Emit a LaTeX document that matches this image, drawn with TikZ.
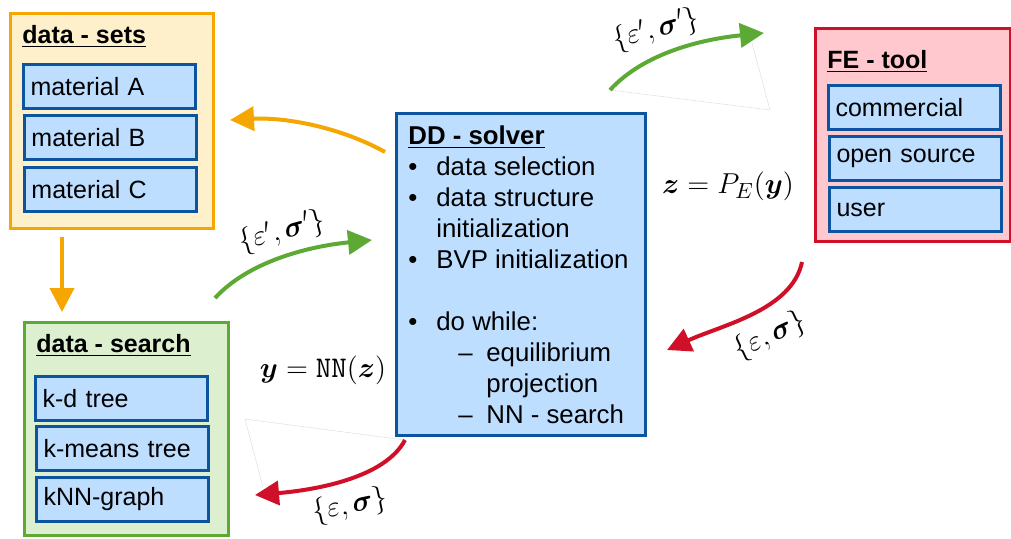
\documentclass[tikz,border=0pt]{standalone}
\usepackage{amsmath}
\usepackage{bm}
\usepackage{fontspec}
\setmainfont{Liberation Sans}
\usetikzlibrary{calc,fit,arrows.meta}
\definecolor{setsorange}{RGB}{245,166,0}
\definecolor{setsfill}{RGB}{255,240,204}
\definecolor{searchgreen}{RGB}{92,170,52}
\definecolor{searchfill}{RGB}{220,240,208}
\definecolor{fered}{RGB}{208,16,40}
\definecolor{fefill}{RGB}{255,199,206}
\definecolor{solverblue}{RGB}{12,84,160}
\definecolor{itemfill}{RGB}{189,222,255}
\newcommand{\solbul}{\makebox[14pt][l]{\textbullet}}
\newcommand{\solind}{\hspace*{14pt}}
\newcommand{\soldash}{\hspace*{25pt}\makebox[14pt][l]{--}}
\newcommand{\soldind}{\hspace*{39pt}}
\tikzset{
  outerbox/.style={draw, line width=1.5pt, inner sep=0pt},
  itembox/.style={draw=solverblue, fill=itemfill, line width=1.5pt, anchor=north west,
    minimum width=86pt, minimum height=22pt, text width=79pt, inner xsep=3.5pt,
    align=left, font=\fontsize{12.5}{15}\selectfont},
  boxtitle/.style={anchor=base west, inner sep=0pt, font=\fontsize{12.5}{15}\selectfont\bfseries},
  flow/.style={line width=2pt, -{Triangle[length=12pt,width=12pt]}},
  flowlabel/.style={font=\fontsize{14}{17}\selectfont},
  ghost/.style={gray!30, line width=0.2pt}
}
\begin{document}
\begin{tikzpicture}[x=0.5pt, y=-0.5pt]
\useasboundingbox (0,0) rectangle (1011,538);
\node[outerbox, draw=setsorange, fill=setsfill, fit={(10,13) (213,228)}] (sets) {};
\node[boxtitle] (setstitle) at (22,43) {\underline{data - sets}};
\node[itembox] (matA) at (22,63) {material A};
\node[itembox] (matB) at (23,114) {material B};
\node[itembox] (matC) at (23,166) {material C};
\node[outerbox, draw=searchgreen, fill=searchfill, fit={(24,322) (228,535)}] (search) {};
\node[boxtitle] (searchtitle) at (36,352) {\underline{data - search}};
\node[itembox] (kdtree) at (34,375) {k-d tree};
\node[itembox] (kmeans) at (35,425) {k-means tree};
\node[itembox] (knn) at (35,476) {kNN-graph};
\node[outerbox, draw=fered, fill=fefill, fit={(815,28) (1010,241)}] (fe) {};
\node[boxtitle] (fetitle) at (827,68) {\underline{FE - tool}};
\node[itembox] (commercial) at (827,84) {commercial};
\node[itembox] (opensource) at (828,135) {open source};
\node[itembox] (user) at (828,186) {user};
\node[outerbox, draw=solverblue, fill=itemfill, fit={(396,113) (645,435)}] (solver) {};
\node[anchor=north west, inner sep=0pt, align=left, font=\fontsize{12.9}{15.5}\selectfont] (solvertxt) at (408,125)
  {\underline{\textbf{DD - solver}}\\
   \solbul data selection\\
   \solbul data structure\\
   \solind initialization\\
   \solbul BVP initialization\\[15.5pt]
   \solbul do while:\\
   \soldash equilibrium\\
   \soldind projection\\
   \soldash NN - search};
\node[font=\fontsize{15}{18}\selectfont] (proj) at (728,186) {$\bm z = P_E(\bm y)$};
\node[font=\fontsize{15}{18}\selectfont] (nn) at (323,370) {$\bm y = \mathtt{NN}(\bm z)$};
\coordinate (o1s) at (385,152); \coordinate (o1e) at (230,120);
\coordinate (o2s) at (62,237); \coordinate (o2e) at (62,312);
\coordinate (g1s) at (215,298); \coordinate (g1e) at (372,240);
\coordinate (g2s) at (610,90); \coordinate (g2e) at (764,33);
\coordinate (r1s) at (802,262); \coordinate (r1e) at (667,350);
\coordinate (r2s) at (405,440); \coordinate (r2e) at (255,495);
\coordinate (g2c) at (770,110); \coordinate (r2c) at (245,419);
\draw[ghost] (g2s) -- (g2c) -- ($(g2e)+(-12,10)$);
\draw[ghost] (r2s) -- (r2c) -- ($(r2e)+(8,-8)$);
\draw[flow, setsorange] (o1s) .. controls +(-45,-25) and +(55,-3) .. (o1e);
\draw[flow, setsorange] (o2s) -- (o2e);
\draw[flow, searchgreen] (g1s) .. controls +(35,-38) and +(-60,6) .. (g1e);
\draw[flow, searchgreen] (g2s) .. controls +(35,-38) and +(-60,6) .. (g2e);
\draw[flow, fered] (r1s) .. controls +(-10,48) and +(55,-25) .. (r1e);
\draw[flow, fered] (r2s) .. controls +(-20,38) and +(60,-5) .. (r2e);
\node[flowlabel, rotate=15] (g1lab) at (282,232) {$\{\varepsilon',\bm\sigma'\}$};
\node[flowlabel, rotate=15] (g2lab) at (656,30) {$\{\varepsilon',\bm\sigma'\}$};
\node[flowlabel, rotate=25] (r1lab) at (770,336) {$\{\varepsilon,\bm\sigma\}$};
\node[flowlabel, rotate=12] (r2lab) at (350,506) {$\{\varepsilon,\bm\sigma\}$};
\end{tikzpicture}
\end{document}
